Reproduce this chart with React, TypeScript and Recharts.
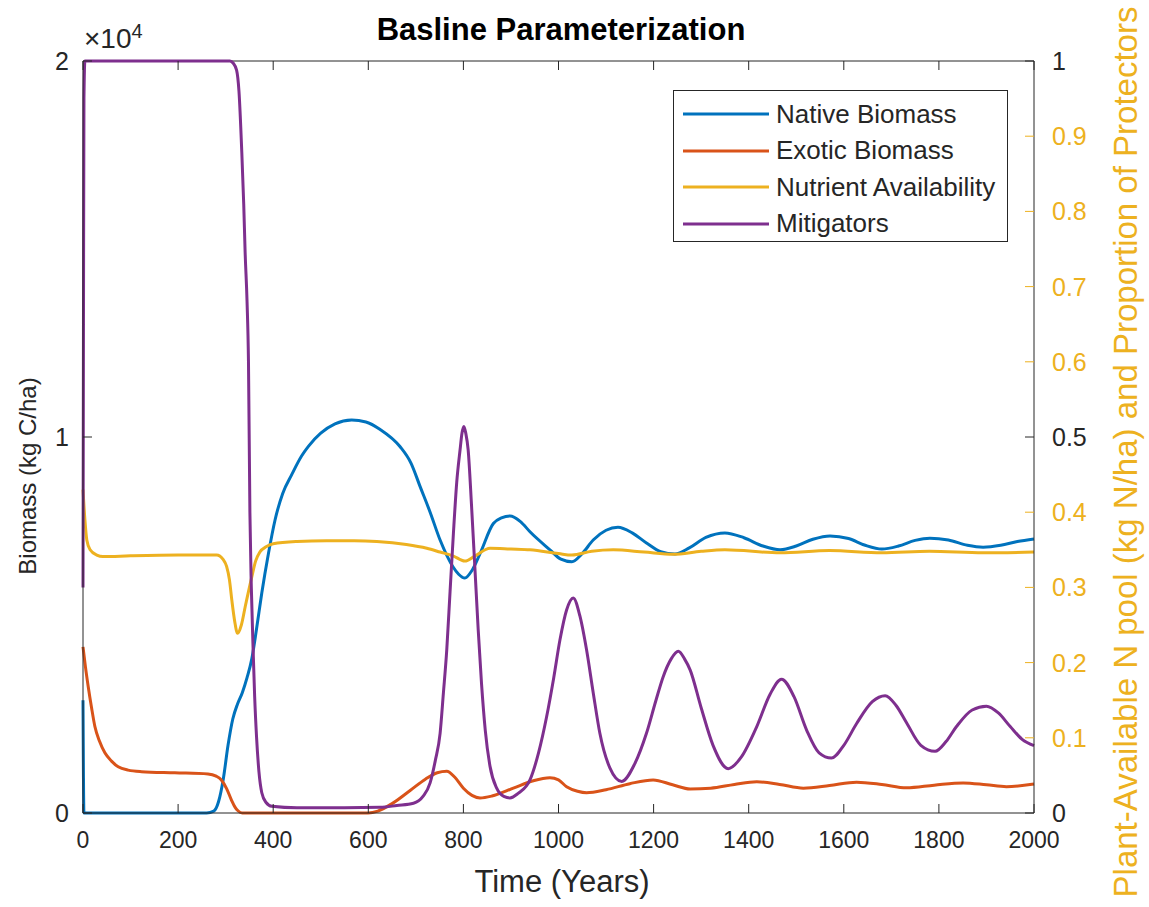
import { LineChart, Line, XAxis, YAxis, ReferenceLine } from "recharts";

// [year, kg C/ha]
const nativeBiomass: [number, number][] = [
  [0, 3000], [2, 0], [100, 0], [200, 0], [260, 0], [275, 50], [285, 300], [295, 900],
  [305, 1800], [315, 2500], [325, 2900], [335, 3200], [345, 3600], [355, 4100], [365, 4900],
  [376, 5850], [390, 6900], [404, 7800], [420, 8500], [439, 9000], [460, 9500], [474, 9750],
  [500, 10100], [530, 10350], [565, 10450], [595, 10400], [625, 10200], [667, 9740], [690, 9300],
  [709, 8680], [730, 8000], [751, 7260], [778, 6550], [790, 6350], [803, 6250], [818, 6450],
  [835, 6900], [863, 7700], [880, 7850], [898, 7900], [920, 7750], [940, 7480], [982, 7000],
  [1005, 6750], [1028, 6680], [1050, 6900], [1073, 7260], [1100, 7520], [1125, 7600], [1155, 7450],
  [1185, 7180], [1215, 6950], [1245, 6890], [1275, 7050], [1310, 7330], [1350, 7450], [1390, 7320],
  [1430, 7100], [1466, 7000], [1500, 7100], [1535, 7280], [1571, 7370], [1610, 7300], [1645, 7120],
  [1680, 7020], [1715, 7100], [1750, 7250], [1781, 7310], [1820, 7260], [1860, 7120], [1893, 7070],
  [1930, 7120], [1965, 7220], [2000, 7290],
];

const exoticBiomass: [number, number][] = [
  [0, 4420], [5, 3900], [11, 3360], [18, 2800], [25, 2300], [35, 1900], [46, 1600], [60, 1380],
  [74, 1230], [95, 1140], [123, 1100], [193, 1070], [263, 1040], [280, 980], [291, 880], [302, 650],
  [312, 350], [320, 150], [326, 60], [335, 0], [600, 0], [620, 50], [650, 250], [688, 600],
  [720, 900], [745, 1070], [765, 1110], [782, 950], [800, 660], [818, 470], [835, 400], [860, 450],
  [905, 660], [945, 850], [982, 940], [1000, 880], [1017, 700], [1040, 580], [1059, 540], [1100, 620],
  [1150, 780], [1199, 880], [1240, 750], [1277, 640], [1320, 660], [1370, 760], [1417, 830],
  [1465, 760], [1515, 660], [1570, 730], [1627, 820], [1680, 760], [1732, 670], [1790, 740],
  [1851, 800], [1900, 750], [1942, 700], [2000, 770],
];

// right axis, kg N/ha
const nutrientAvailability: [number, number][] = [
  [0, 0.43], [4, 0.39], [8, 0.363], [15, 0.35], [29, 0.343], [42, 0.341], [100, 0.342], [200, 0.343],
  [281, 0.343], [295, 0.337], [302, 0.328], [308, 0.31], [313, 0.283], [319, 0.255], [325, 0.239],
  [333, 0.25], [341, 0.274], [355, 0.314], [363, 0.335], [372, 0.347], [385, 0.354], [400, 0.358],
  [450, 0.361], [512, 0.362], [570, 0.362], [618, 0.361], [680, 0.357], [723, 0.352], [751, 0.347],
  [778, 0.342], [803, 0.335], [825, 0.342], [856, 0.352], [900, 0.351], [940, 0.35], [1000, 0.345],
  [1028, 0.343], [1070, 0.348], [1115, 0.35], [1180, 0.347], [1241, 0.344], [1300, 0.348],
  [1350, 0.35], [1466, 0.346], [1570, 0.349], [1680, 0.346], [1780, 0.348], [1893, 0.346], [2000, 0.347],
];

// right axis, proportion of protectors
const mitigators: [number, number][] = [
  [0, 0.3], [1, 0.65], [2, 0.95], [4, 1], [100, 1], [200, 1], [300, 1], [309, 1], [316, 0.997],
  [323, 0.988], [328, 0.96], [334, 0.878], [338, 0.81], [341, 0.745], [345, 0.68], [348, 0.6],
  [351, 0.4], [354, 0.3], [358, 0.213], [361, 0.155], [365, 0.101], [370, 0.055], [376, 0.027],
  [385, 0.014], [397, 0.009], [450, 0.007], [550, 0.007], [625, 0.0075], [660, 0.01], [695, 0.013],
  [715, 0.022], [730, 0.04], [741, 0.07], [751, 0.106], [758, 0.16], [765, 0.217], [772, 0.295],
  [779, 0.372], [786, 0.44], [793, 0.483], [797, 0.505], [801, 0.514], [805, 0.505], [810, 0.483],
  [817, 0.41], [824, 0.328], [831, 0.245], [838, 0.173], [846, 0.11], [856, 0.062], [870, 0.033],
  [885, 0.022], [898, 0.02], [915, 0.026], [940, 0.044], [958, 0.08], [975, 0.128], [990, 0.18],
  [1003, 0.23], [1017, 0.27], [1031, 0.286], [1045, 0.262], [1059, 0.217], [1073, 0.16], [1087, 0.106],
  [1108, 0.06], [1133, 0.042], [1160, 0.065], [1185, 0.106], [1205, 0.15], [1220, 0.181], [1237, 0.205],
  [1252, 0.215], [1265, 0.205], [1277, 0.19], [1300, 0.14], [1325, 0.09], [1357, 0.059], [1385, 0.075],
  [1417, 0.115], [1445, 0.158], [1469, 0.178], [1495, 0.155], [1522, 0.11], [1548, 0.08], [1574, 0.073],
  [1600, 0.09], [1627, 0.119], [1660, 0.148], [1687, 0.156], [1710, 0.143], [1732, 0.12], [1762, 0.09],
  [1792, 0.082], [1815, 0.095], [1837, 0.115], [1870, 0.137], [1900, 0.142], [1925, 0.133], [1950, 0.115],
  [1975, 0.098], [2000, 0.0895],
];

const xTicks = [0, 200, 400, 600, 800, 1000, 1200, 1400, 1600, 1800, 2000];
const leftTicks = [0, 10000, 20000];
const rightTicks = [0, 0.1, 0.2, 0.3, 0.4, 0.5, 0.6, 0.7, 0.8, 0.9, 1];

const BLUE = "#0072BD";
const ORANGE = "#D95319";
const YELLOW = "#EDB120";
const PURPLE = "#7E2F8E";
const AXIS = "#262626";
const FONT = "'Liberation Sans', Arial, Helvetica, sans-serif";

const W = 1149;
const H = 907;
const PLOT_LEFT = 83;
const PLOT_RIGHT = 1034;
const PLOT_TOP = 61;
const PLOT_BOTTOM = 813;
const TICK = 9;
const TICK_FS = 23;

const toRows = (pts: [number, number][]) => pts.map(([t, v]) => ({ t, v }));

const series = [
  { name: "Native Biomass", color: BLUE, axis: "left", data: toRows(nativeBiomass) },
  { name: "Exotic Biomass", color: ORANGE, axis: "left", data: toRows(exoticBiomass) },
  { name: "Nutrient Availability", color: YELLOW, axis: "right", data: toRows(nutrientAvailability) },
  { name: "Mitigators", color: PURPLE, axis: "right", data: toRows(mitigators) },
];

const BottomTick = (props: any) => {
  const { x, y, payload } = props;
  return (
    <g>
      <line x1={x} x2={x} y1={PLOT_BOTTOM} y2={PLOT_BOTTOM - TICK} stroke={AXIS} />
      <line x1={x} x2={x} y1={PLOT_TOP} y2={PLOT_TOP + TICK} stroke={AXIS} />
      <text x={x} y={y} dy="0.71em" textAnchor="middle" fill={AXIS} fontSize={TICK_FS} fontFamily={FONT}>
        {payload.value}
      </text>
    </g>
  );
};

const LeftTick = (props: any) => {
  const { x, y, payload } = props;
  return (
    <g>
      <line x1={PLOT_LEFT} x2={PLOT_LEFT + TICK} y1={y} y2={y} stroke={AXIS} />
      <line x1={PLOT_RIGHT} x2={PLOT_RIGHT - TICK} y1={y} y2={y} stroke={AXIS} />
      <text x={x} y={y} dy="0.36em" textAnchor="end" fill={AXIS} fontSize={25} fontFamily={FONT}>
        {payload.value / 10000}
      </text>
    </g>
  );
};

const RightTick = (props: any) => {
  const { x, y, payload } = props;
  const v = payload.value;
  const dark = v === 0 || v === 0.5 || v === 1;
  return (
    <g>
      {!dark && <line x1={PLOT_RIGHT} x2={PLOT_RIGHT - TICK} y1={y} y2={y} stroke={YELLOW} />}
      <text x={x} y={y} dy="0.36em" textAnchor="start" fill={dark ? AXIS : YELLOW} fontSize={25} fontFamily={FONT}>
        {String(v)}
      </text>
    </g>
  );
};

const LegendBox = () => (
  <div
    style={{
      position: "absolute",
      left: 673,
      top: 90,
      width: 335,
      height: 152,
      boxSizing: "border-box",
      border: `1px solid ${AXIS}`,
      background: "#fff",
      padding: "5px 0 0 8px",
      fontSize: 26,
      color: AXIS,
    }}
  >
    {series.map((s) => (
      <div key={s.name} style={{ display: "flex", alignItems: "center", height: 36.5, whiteSpace: "nowrap" }}>
        <svg width={88} height={10} style={{ marginRight: 6, flex: "none" }}>
          <line x1={1} x2={87} y1={5} y2={5} stroke={s.color} strokeWidth={3} />
        </svg>
        <span>{s.name}</span>
      </div>
    ))}
  </div>
);

export default function App() {
  return (
    <div style={{ position: "absolute", left: 0, top: 0, width: W, height: H, background: "#fff", fontFamily: FONT }}>
      <LineChart width={W} height={H} margin={{ top: PLOT_TOP, right: W - PLOT_RIGHT - 70, bottom: H - PLOT_BOTTOM - 40, left: PLOT_LEFT - 60 }}>
        <XAxis
          type="number"
          dataKey="t"
          domain={[0, 2000]}
          ticks={xTicks}
          height={40}
          stroke={AXIS}
          tickLine={false}
          tickSize={0}
          tickMargin={19}
          tick={<BottomTick />}
        />
        <YAxis
          yAxisId="left"
          type="number"
          domain={[0, 20000]}
          ticks={leftTicks}
          width={60}
          stroke={AXIS}
          tickLine={false}
          tickSize={0}
          tickMargin={14}
          tick={<LeftTick />}
        />
        <YAxis
          yAxisId="right"
          orientation="right"
          type="number"
          domain={[0, 1]}
          ticks={rightTicks}
          width={70}
          stroke={AXIS}
          tickLine={false}
          tickSize={0}
          tickMargin={18}
          tick={<RightTick />}
        />
        <ReferenceLine yAxisId="left" y={20000} stroke={AXIS} />
        {series.map((s) => (
          <Line
            key={s.name}
            yAxisId={s.axis}
            data={s.data}
            dataKey="v"
            name={s.name}
            type="monotone"
            stroke={s.color}
            strokeWidth={3}
            dot={false}
            activeDot={false}
            isAnimationActive={false}
          />
        ))}
      </LineChart>

      <LegendBox />

      <div style={{ position: "absolute", left: 0, width: 1122, top: 12, textAlign: "center", fontWeight: "bold", fontSize: 31, color: "#000" }}>
        Basline Parameterization
      </div>
      <div style={{ position: "absolute", left: 84, top: 20, fontSize: 28, color: AXIS }}>
        ×10<sup style={{ fontSize: 20 }}>4</sup>
      </div>
      <div style={{ position: "absolute", left: 0, width: 1124, top: 864, textAlign: "center", fontSize: 31, color: AXIS }}>
        Time (Years)
      </div>
      <div
        style={{
          position: "absolute",
          left: 28,
          top: 476,
          transform: "translate(-50%, -50%) rotate(-90deg)",
          whiteSpace: "nowrap",
          fontSize: 24,
          color: AXIS,
        }}
      >
        Biomass (kg C/ha)
      </div>
      <div
        style={{
          position: "absolute",
          left: 1126,
          top: 452,
          transform: "translate(-50%, -50%) rotate(-90deg)",
          whiteSpace: "nowrap",
          fontSize: 33,
          color: YELLOW,
        }}
      >
        Plant-Available N pool (kg N/ha) and Proportion of Protectors
      </div>
    </div>
  );
}
